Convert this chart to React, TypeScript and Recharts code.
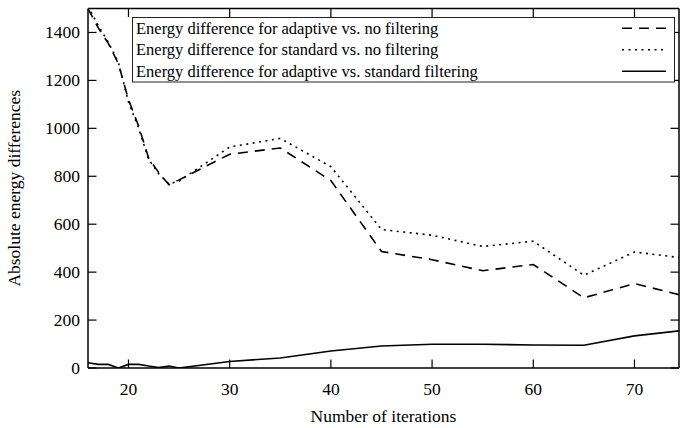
import React from "react";
import { LineChart, Line, XAxis, YAxis, Legend, ReferenceLine } from "recharts";

// iterations and the three energy differences
const iterations = [16, 17, 18, 19, 20, 21, 22, 23, 24, 25, 30, 35, 40, 45, 50, 55, 60, 65, 70, 75];
const adaptiveVsNone = [1500, 1420, 1355, 1270, 1120, 1010, 875, 815, 765, 785, 892, 918, 782, 486, 452, 406, 432, 293, 352, 300];
const standardVsNone = [1510, 1430, 1360, 1275, 1110, 1000, 870, 810, 768, 780, 922, 958, 840, 578, 554, 507, 529, 387, 484, 458];
const adaptiveVsStandard = [22, 15, 15, 0, 15, 15, 8, 2, 8, 0, 27, 42, 71, 92, 99, 99, 96, 95, 134, 158];

const seriesNames = [
  "Energy difference for adaptive vs. no filtering",
  "Energy difference for standard vs. no filtering",
  "Energy difference for adaptive vs. standard filtering",
];
const seriesDash = ["10 7", "2 4.5", undefined];

const xTicks = [20, 30, 40, 50, 60, 70];
const yTicks = [0, 200, 400, 600, 800, 1000, 1200, 1400];
const xDomain = [16, 74.4];
const yDomain = [0, 1500];

const data = iterations.map((it, i) => ({
  it,
  adaptive: adaptiveVsNone[i],
  standard: standardVsNone[i],
  both: adaptiveVsStandard[i],
}));

const W = 680;
const H = 428;
const PLOT_LEFT = 88;
const PLOT_TOP = 8.5;
const PLOT_RIGHT = 679;
const PLOT_BOTTOM = 368;
const TICK = 8.5;
const FONT = "Liberation Serif, Times New Roman, serif";

const LEGEND_W = 543;
const LEGEND_ROW = 21.5;

function XTick({ x, payload }: any) {
  return (
    <g>
      <line x1={x} x2={x} y1={PLOT_BOTTOM} y2={PLOT_BOTTOM - TICK} stroke="#000" strokeWidth={1.2} />
      <line x1={x} x2={x} y1={PLOT_TOP} y2={PLOT_TOP + TICK} stroke="#000" strokeWidth={1.2} />
      <text x={x} y={PLOT_BOTTOM + 27} textAnchor="middle" fontFamily={FONT} fontSize={17.5} fill="#000">
        {payload.value}
      </text>
    </g>
  );
}

function YTick({ y, payload }: any) {
  return (
    <g>
      <line x1={PLOT_LEFT} x2={PLOT_LEFT + TICK} y1={y} y2={y} stroke="#000" strokeWidth={1.2} />
      <line x1={PLOT_RIGHT} x2={PLOT_RIGHT - TICK} y1={y} y2={y} stroke="#000" strokeWidth={1.2} />
      <text x={80} y={y + 6} textAnchor="end" fontFamily={FONT} fontSize={17.5} fill="#000">
        {payload.value}
      </text>
    </g>
  );
}

function YLabel({ viewBox }: any) {
  const cy = viewBox.y + viewBox.height / 2;
  return (
    <text
      x={20}
      y={cy}
      transform={`rotate(-90 20 ${cy})`}
      textAnchor="middle"
      fontFamily={FONT}
      fontSize={17.5}
      fill="#000"
    >
      Absolute energy differences
    </text>
  );
}

function LegendBox({ payload }: any) {
  const items = payload || [];
  const h = items.length * LEGEND_ROW + 1;
  return (
    <svg width={LEGEND_W} height={h} style={{ display: "block" }}>
      <rect x={0.5} y={0.5} width={LEGEND_W - 1} height={h - 1} fill="#fff" stroke="#222" strokeWidth={1} />
      {items.map((p: any, i: number) => {
        const cy = 0.5 + LEGEND_ROW * (i + 0.5);
        const k = seriesNames.indexOf(p.value);
        return (
          <g key={p.value}>
            <text x={4} y={cy + 5.5} fontFamily={FONT} fontSize={16.5} fill="#000">
              {p.value}
            </text>
            <line
              x1={LEGEND_W - 53}
              x2={LEGEND_W - 9}
              y1={cy}
              y2={cy}
              stroke="#000"
              strokeWidth={1.6}
              strokeDasharray={seriesDash[k]}
            />
          </g>
        );
      })}
    </svg>
  );
}

export default function App() {
  return (
    <div style={{ position: "absolute", left: 0, top: 0, width: W, height: H, background: "#fff" }}>
      <LineChart width={W} height={H} data={data} margin={{ top: PLOT_TOP, right: W - PLOT_RIGHT, left: 0, bottom: 0 }}>
        <XAxis
          dataKey="it"
          type="number"
          domain={xDomain}
          ticks={xTicks}
          allowDataOverflow
          height={H - PLOT_BOTTOM}
          tickLine={false}
          tickSize={0}
          axisLine={{ stroke: "#000", strokeWidth: 1.5 }}
          tick={<XTick />}
          label={{
            value: "Number of iterations",
            position: "insideBottom",
            offset: 6,
            fontFamily: FONT,
            fontSize: 17.5,
            fill: "#000",
          }}
        />
        <YAxis
          type="number"
          domain={yDomain}
          ticks={yTicks}
          allowDataOverflow
          width={PLOT_LEFT}
          tickLine={false}
          tickSize={0}
          axisLine={{ stroke: "#000", strokeWidth: 1.5 }}
          tick={<YTick />}
          label={{ content: <YLabel /> }}
        />
        <ReferenceLine y={yDomain[1]} stroke="#000" strokeWidth={1.5} />
        <ReferenceLine x={xDomain[1]} stroke="#000" strokeWidth={1.5} />
        <Legend
          layout="vertical"
          align="center"
          verticalAlign="middle"
          itemSorter={(item: any) => seriesNames.indexOf(item.value)}
          wrapperStyle={{ left: 132, top: 17 }}
          content={<LegendBox />}
        />
        <Line
          type="linear"
          dataKey="adaptive"
          name={seriesNames[0]}
          stroke="#000"
          strokeWidth={1.6}
          strokeDasharray={seriesDash[0]}
          dot={false}
          isAnimationActive={false}
        />
        <Line
          type="linear"
          dataKey="standard"
          name={seriesNames[1]}
          stroke="#000"
          strokeWidth={1.6}
          strokeDasharray={seriesDash[1]}
          dot={false}
          isAnimationActive={false}
        />
        <Line
          type="linear"
          dataKey="both"
          name={seriesNames[2]}
          stroke="#000"
          strokeWidth={1.6}
          dot={false}
          isAnimationActive={false}
        />
      </LineChart>
    </div>
  );
}
